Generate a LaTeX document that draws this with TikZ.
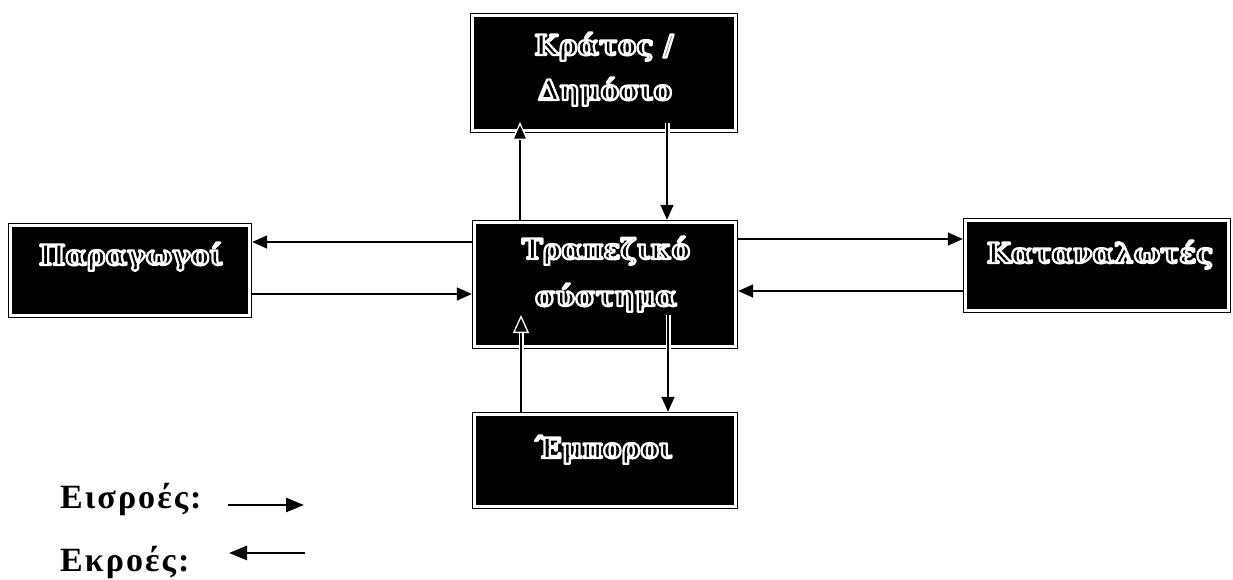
\documentclass[tikz,border=0pt]{standalone}
\usepackage{fontspec}
\setmainfont{Liberation Serif}
\newfontfamily\boxfont{DejaVu Serif}
\newcommand\outlinedtext[1]{\special{pdf:literal direct q 1 G 2.3 w 1 j 2 Tr}#1\special{pdf:literal direct Q}}
\usetikzlibrary{arrows.meta}
\tikzset{
  blackbox/.style={draw=black, line width=1.2pt, double=white, double distance=3pt,
    fill=black, inner sep=0pt, outer sep=2.7pt},
  boxtext/.style={anchor=base, inner sep=0pt, text=black,
    font=\boxfont\bfseries\fontsize{28}{34}\selectfont},
  flow/.style={draw=black, line width=1.6pt, -{Triangle[length=15pt,width=13pt]}},
  halostem/.style={preaction={draw=white, line width=5pt, -, shorten >=#1}},
  halotip/.style={-{Triangle[length=18pt,width=16pt,fill=black,color=white,line width=1.3pt]}},
  legendtext/.style={anchor=base west, inner sep=0pt,
    font=\fontsize{34}{40}\selectfont\bfseries\addfontfeature{LetterSpace=6}},
  legendarrow/.style={draw=black, line width=2.6pt, -{Triangle[length=18pt,width=14pt]}},
}
\begin{document}
\begin{tikzpicture}[x=1pt, y=-1pt]
\fill[white] (0,0) rectangle (1233,580);
\useasboundingbox (0,0) rectangle (1233,580);

% boxes
\node[blackbox, minimum width=263pt, minimum height=115pt] (K) at (604,73) {};
\node[blackbox, minimum width=239pt, minimum height=90pt] (P) at (130,270.5) {};
\node[blackbox, minimum width=261pt, minimum height=124pt] (T) at (605,284.5) {};
\node[blackbox, minimum width=263pt, minimum height=90pt] (C) at (1097,265.5) {};
\node[blackbox, minimum width=261pt, minimum height=92pt] (E) at (605,460.5) {};

% box texts
\node[boxtext] (Kt1) at (604,55) {\outlinedtext{Κράτος /}};
\node[boxtext] (Kt2) at (605,100) {\outlinedtext{Δημόσιο}};
\node[boxtext] (Pt) at (131,265) {\outlinedtext{Παραγωγοί}};
\node[boxtext] (Tt1) at (606,259) {\outlinedtext{Τραπεζικό}};
\node[boxtext] (Tt2) at (606,306) {\outlinedtext{σύστημα}};
\node[boxtext] (Ct) at (1100,263) {\outlinedtext{Καταναλωτές}};
\node[boxtext] (Et) at (604,458) {\outlinedtext{Έμποροι}};

% points inside boxes where arrows start or end
\coordinate (Kin) at (520,122);
\coordinate (Kout) at (667,123);
\coordinate (Tin) at (521,315);
\coordinate (Tout) at (668,315);

% vertical connectors
\draw[flow, halotip, halostem=16pt] (T.north -| 520,0) -- (Kin);
\draw[flow, halostem=40pt] (Kout) -- (T.north -| 667,0);
\draw[flow, halotip, halostem=16pt] (E.north -| 521,0) -- (Tin);
\draw[flow, halostem=40pt] (Tout) -- (E.north -| 668,0);

% horizontal connectors
\draw[flow] (T.west |- 0,242) -- (P.east |- 0,242);
\draw[flow] (P.east |- 0,294) -- (T.west |- 0,294);
\draw[flow] (T.east |- 0,239) -- (C.west |- 0,239);
\draw[flow] (C.west |- 0,291) -- (T.east |- 0,291);

% legend
\node[legendtext] (Lin) at (60,508) {Εισροές:};
\node[legendtext] (Lout) at (60,571) {Εκροές:};
\coordinate (Lin1) at (228,505);
\coordinate (Lin2) at (304,505);
\coordinate (Lout1) at (305,553);
\coordinate (Lout2) at (229,553);
\draw[legendarrow] (Lin1) -- (Lin2);
\draw[legendarrow] (Lout1) -- (Lout2);
\end{tikzpicture}
\end{document}
